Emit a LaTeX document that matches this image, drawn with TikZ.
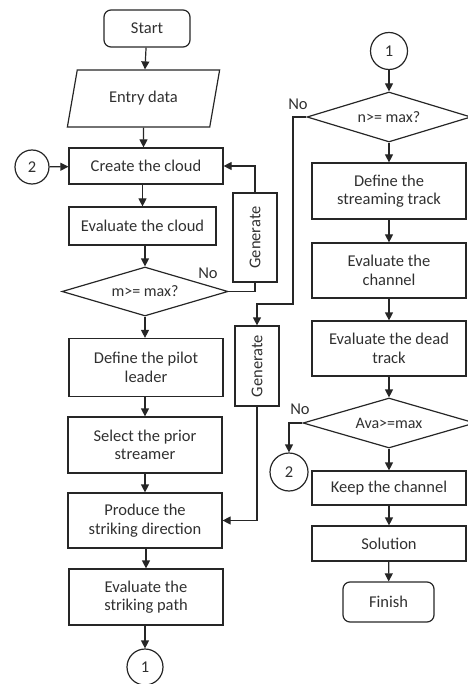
\documentclass[tikz,border=0pt]{standalone}
\usepackage{fontspec}
\setmainfont{Carlito}
\usetikzlibrary{shapes.geometric,arrows.meta}
\definecolor{ink}{HTML}{262626}
\definecolor{txt}{HTML}{303030}
\begin{document}
\begin{tikzpicture}[x=1pt,y=-1pt,font=\fontsize{16.5}{18.5}\selectfont,
		wire/.style={draw=ink,line width=1.2pt},
		arr/.style={wire,-{Triangle[length=8pt,width=8pt]}},
		box/.style={draw=ink,line width=1.2pt,rectangle,inner sep=0pt,align=center,text=txt,minimum width=154pt},
		term/.style={box,rounded corners=7pt},
		dec/.style={draw=ink,line width=1.2pt,diamond,aspect=3.3,inner sep=0pt,text=txt,font=\fontsize{16}{18}\selectfont},
		io/.style={draw=ink,line width=1.2pt,trapezium,trapezium left angle=70,trapezium right angle=110,trapezium stretches=true,inner sep=0pt,text=txt},
		gen/.style={box,rotate=90,minimum height=44pt},
		conn/.style={draw=ink,line width=1.2pt,circle,minimum size=36pt,inner sep=0pt,text=txt},
		lbl/.style={text=txt,inner sep=0pt}]
	\useasboundingbox (0,0) rectangle (467,684);
	\node[term,minimum width=86pt,minimum height=37pt] (start) at (147,28.5) {Start};
	\node[io,minimum width=153pt,minimum height=57pt] (entry) at (143.5,98.5) {Entry data};
	\node[box,minimum height=36pt] (cloud) at (146,166) {Create the cloud};
	\node[box,minimum width=147pt,minimum height=38pt] (evalc) at (142.5,226) {Evaluate the cloud};
	\node[dec,minimum width=166pt,minimum height=49pt] (mmax) at (145,291.5) {m>= max?};
	\node[gen,minimum width=89pt] (gen1) at (255,237.5) {Generate};
	\node[box,minimum height=58pt] (pilot) at (146,367.5) {Define the pilot\\leader};
	\node[box,minimum height=56pt] (prior) at (145,445) {Select the prior\\streamer};
	\node[box,minimum height=55pt] (prod) at (145,520.5) {Produce the\\striking direction};
	\node[box,minimum height=56pt] (evalp) at (146,597) {Evaluate the\\striking path};
	\node[conn] (onea) at (145,667) {1};
	\node[conn,minimum size=34pt] (twoa) at (32,167) {2};
	\node[gen,minimum width=80pt] (gen2) at (257,366) {Generate};
	\node[conn,minimum size=37pt] (oneb) at (389,51) {1};
	\node[dec,minimum width=164pt,minimum height=50pt] (nmax) at (389,117) {n>= max?};
	\node[box,minimum height=56pt] (stream) at (389,191) {Define the\\streaming track};
	\node[box,minimum height=55pt] (chan) at (389,270.5) {Evaluate the\\channel};
	\node[box,minimum height=55pt] (dead) at (389,348.5) {Evaluate the dead\\track};
	\node[dec,minimum width=172pt,minimum height=50pt] (ava) at (389,423) {Ava>=max};
	\node[conn,minimum size=38pt] (twob) at (289,472) {2};
	\node[box,minimum height=34pt] (keep) at (389,488) {Keep the channel};
	\node[box,minimum height=35pt] (sol) at (389,543.5) {Solution};
	\node[term,minimum width=91pt,minimum height=40pt] (fin) at (388.5,602) {Finish};
	\node[lbl] (no1) at (208,273) {No};
	\node[lbl] (no2) at (298,104) {No};
	\node[lbl] (no3) at (300,409) {No};
	\coordinate (bend) at (293,304);
	\draw[arr] (start) -- (entry);
	\draw[arr] (entry) -- (entry |- cloud.north);
	\draw[arr] (twoa) -- (cloud);
	\draw[arr] (cloud.south -| evalc) -- (evalc);
	\draw[arr] (evalc.south -| mmax) -- (mmax);
	\draw[wire] (mmax.east) -| (gen1);
	\draw[arr] (gen1) |- (cloud.east);
	\draw[arr] (mmax) -- (mmax |- pilot.north);
	\draw[arr] (pilot.south -| prior) -- (prior);
	\draw[arr] (prior) -- (prod);
	\draw[arr] (prod.south -| evalp) -- (evalp);
	\draw[arr] (evalp.south -| onea) -- (onea);
	\draw[arr] (nmax.west) -| (bend) -| (gen2);
	\draw[arr] (gen2) |- (prod.east);
	\draw[arr] (oneb) -- (nmax);
	\draw[arr] (nmax) -- (stream);
	\draw[arr] (stream) -- (chan);
	\draw[arr] (chan) -- (dead);
	\draw[arr] (dead) -- (ava);
	\draw[arr] (ava.west) -| (twob);
	\draw[arr] (ava) -- (keep);
	\draw[arr] (keep) -- (sol);
	\draw[arr] (sol) -- (fin);
\end{tikzpicture}
\end{document}
